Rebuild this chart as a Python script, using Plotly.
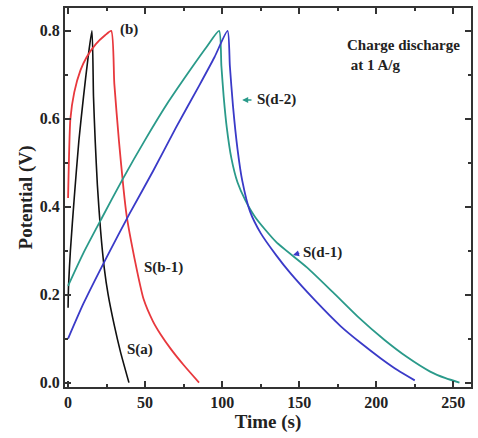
import plotly.graph_objects as go

# S(a) - black
sa_t = [0.0, 0.3, 1.5, 4, 7, 10, 13, 15.5, 16.5, 17.6, 19, 21, 23.5, 26, 30, 34, 39.5]
sa_v = [0.17, 0.22, 0.3, 0.42, 0.55, 0.65, 0.74, 0.8, 0.65, 0.55, 0.45, 0.35, 0.26, 0.2, 0.13, 0.07, 0.0]

# S(b-1) - red
sb_t = [0.0, 0.5, 1.5, 4, 8, 12, 18, 24, 28, 30, 33, 36, 38, 41, 45, 49, 55, 60, 67, 75, 85]
sb_v = [0.42, 0.5, 0.6, 0.66, 0.71, 0.74, 0.77, 0.79, 0.8, 0.68, 0.55, 0.44, 0.38, 0.32, 0.25, 0.19, 0.14, 0.11, 0.075, 0.04, 0.0]

# S(d-1) - blue
sd1_t = [0.0, 10, 25, 40, 55, 70, 85, 95, 103.5, 105, 107, 110, 113, 118, 125, 135, 144, 160, 177, 190, 203, 214, 225]
sd1_v = [0.1, 0.18, 0.285, 0.385, 0.48, 0.58, 0.675, 0.74, 0.8, 0.72, 0.63, 0.53, 0.46, 0.39, 0.34, 0.29, 0.25, 0.188, 0.128, 0.09, 0.055, 0.028, 0.005]

# S(d-2) - teal
sd2_t = [0.0, 10, 22, 35, 50, 65, 80, 90, 98, 99.5, 101, 103, 106, 110, 115, 121.7, 135, 155, 172, 188, 205, 220, 235, 245, 254]
sd2_v = [0.22, 0.295, 0.375, 0.46, 0.552, 0.638, 0.715, 0.764, 0.8, 0.72, 0.65, 0.58, 0.51, 0.455, 0.415, 0.375, 0.32, 0.262, 0.205, 0.15, 0.098, 0.058, 0.025, 0.01, 0.0]

x_ticks = [0, 50, 100, 150, 200, 250]
y_ticks = [0.0, 0.2, 0.4, 0.6, 0.8]

FONT = "Liberation Serif, Times New Roman, serif"

fig = go.Figure()
fig.add_trace(go.Scatter(x=sa_t, y=sa_v, mode="lines", line=dict(color="#111111", width=1.6, shape="spline", smoothing=0.6)))
fig.add_trace(go.Scatter(x=sb_t, y=sb_v, mode="lines", line=dict(color="#e8383d", width=1.8, shape="spline", smoothing=0.6)))
fig.add_trace(go.Scatter(x=sd2_t, y=sd2_v, mode="lines", line=dict(color="#2a9a8a", width=1.8, shape="spline", smoothing=0.6)))
fig.add_trace(go.Scatter(x=sd1_t, y=sd1_v, mode="lines", line=dict(color="#3a3ac8", width=1.8, shape="spline", smoothing=0.6)))

anns = [
    dict(x=39.5, y=0.802, text="<b>(b)</b>", xanchor="center"),
    dict(x=180, y=0.79, text="<b>Charge discharge<br> at 1 A/g</b>", xanchor="left", align="left", yanchor="top"),
    dict(x=121, y=0.643, text="<b>S(d-2)</b>", xanchor="left"),
    dict(x=151, y=0.295, text="<b>S(d-1)</b>", xanchor="left"),
    dict(x=48, y=0.261, text="<b>S(b-1)</b>", xanchor="left"),
    dict(x=37, y=0.075, text="<b>S(a)</b>", xanchor="left"),
]
for a in anns:
    fig.add_annotation(showarrow=False, font=dict(family=FONT, size=15, color="#222"), **a)

# small arrows for labels
fig.add_annotation(x=113, y=0.643, ax=120, ay=0.643, xref="x", yref="y", axref="x", ayref="y",
                   showarrow=True, arrowhead=2, arrowsize=0.8, arrowwidth=1.5, arrowcolor="#2a9a8a", text="")
fig.add_annotation(x=146, y=0.29, ax=151, ay=0.295, xref="x", yref="y", axref="x", ayref="y",
                   showarrow=True, arrowhead=2, arrowsize=0.8, arrowwidth=1.5, arrowcolor="#3a3ac8", text="")

axis_common = dict(
    showline=True, linecolor="#333", linewidth=2, mirror="ticks",
    ticks="inside", ticklen=6, tickwidth=1.5, tickcolor="#333",
    showgrid=False, zeroline=False, automargin=False,
    tickfont=dict(family=FONT, size=16, color="#222"),
)

fig.update_xaxes(range=[-2, 261.5], tickvals=x_ticks, ticktext=[f"<b>{v}</b>" for v in x_ticks],
                 minor=dict(dtick=25, tick0=0, ticks="inside", ticklen=3, tickcolor="#333"),
                 title=dict(text="<b>Time (s)</b>", font=dict(family=FONT, size=19, color="#222"), standoff=0),
                 **axis_common)
fig.update_yaxes(range=[-0.01, 0.852], tickvals=y_ticks, ticktext=[f"<b>{v:.1f}</b>" for v in y_ticks],
                 minor=dict(dtick=0.1, tick0=0, ticks="inside", ticklen=3, tickcolor="#333"),
                 title=dict(text="<b>Potential (V)</b>", font=dict(family=FONT, size=19, color="#222"), standoff=2),
                 **axis_common)

fig.update_layout(
    width=478, height=438, showlegend=False,
    margin=dict(l=65, r=7, t=8, b=51),
    plot_bgcolor="white", paper_bgcolor="white",
)
fig.write_html("out.html", config={"displayModeBar": False},
               post_script="document.body.style.margin='0';document.body.style.overflow='hidden';")
